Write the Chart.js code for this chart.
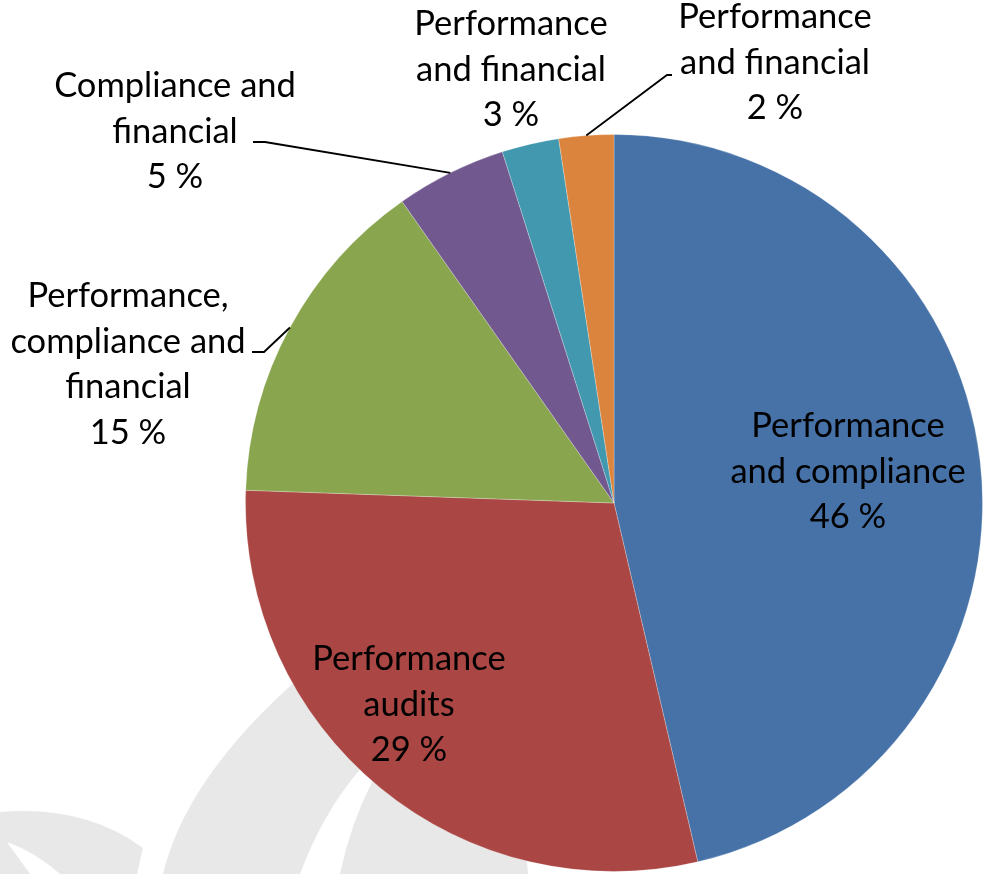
<!DOCTYPE html>
<html>
<head>
<meta charset="utf-8">
<script src="https://cdn.jsdelivr.net/npm/chart.js@4"></script>
<style>
    body { margin: 0; background: #ffffff; }
    canvas { display: block; }
</style>
</head>
<body>
<canvas id="chart" width="983" height="874"></canvas>
<script>
const categories = [
    ["Performance", "and compliance"],
    ["Performance", "audits"],
    ["Performance,", "compliance and", "financial"],
    ["Compliance and", "financial"],
    ["Performance", "and financial"],
    ["Performance", "and financial"]
];
const shares = [46.35, 29.2, 14.7, 4.85, 2.5, 2.4];
const colors = ["#4672A7", "#AA4643", "#89A54E", "#71588F", "#4198AF", "#DB843D"];

// where each label sits: centre x, first baseline, and where its leader line starts
const labelSpots = [
    { x: 848, y: 437, leader: null },
    { x: 409, y: 670, leader: null },
    { x: 128, y: 307, leader: { x: 252, y: 352 } },
    { x: 175, y: 97, leader: { x: 253, y: 142 } },
    { x: 511, y: 35, leader: null },
    { x: 775, y: 28, leader: { x: 672, y: 75 } }
];
const LINE_GAP = 45.5;
const FONT = "34.5px Lato, 'Open Sans', sans-serif";

const watermark = {
    id: "watermark",
    beforeDatasetsDraw(chart) {
        const ctx = chart.ctx;
        ctx.save();
        ctx.fillStyle = "#E8E8E8";
        // big band left of the white stripe
        ctx.beginPath();
        ctx.moveTo(345, 640);
        ctx.quadraticCurveTo(190, 760, 163, 874);
        ctx.lineTo(300, 874);
        ctx.quadraticCurveTo(322, 815, 357, 773);
        ctx.lineTo(420, 700);
        ctx.closePath();
        ctx.fill();
        // band right of the stripe, under the pie
        ctx.beginPath();
        ctx.moveTo(420, 720);
        ctx.lineTo(373, 780);
        ctx.quadraticCurveTo(350, 825, 340, 874);
        ctx.lineTo(528, 874);
        ctx.lineTo(526, 850);
        ctx.lineTo(500, 760);
        ctx.closePath();
        ctx.fill();
        // leaf at the bottom-left corner
        ctx.beginPath();
        ctx.moveTo(0, 812);
        ctx.quadraticCurveTo(85, 805, 143, 848);
        ctx.lineTo(137, 874);
        ctx.lineTo(60, 874);
        ctx.quadraticCurveTo(35, 852, 7, 842);
        ctx.quadraticCurveTo(20, 860, 30, 874);
        ctx.lineTo(0, 874);
        ctx.closePath();
        ctx.fill();
        ctx.restore();
    }
};

const sliceLabels = {
    id: "sliceLabels",
    afterDatasetsDraw(chart) {
        const ctx = chart.ctx;
        const arcs = chart.getDatasetMeta(0).data;
        const total = shares.reduce((a, b) => a + b, 0);
        ctx.save();
        ctx.font = FONT;
        ctx.fillStyle = "#000000";
        ctx.textAlign = "center";
        ctx.textBaseline = "alphabetic";
        arcs.forEach((arc, i) => {
            const spot = labelSpots[i];
            const lines = categories[i].concat([Math.round(shares[i] / total * 100) + " %"]);
            lines.forEach((line, k) => ctx.fillText(line, spot.x, spot.y + k * LINE_GAP));
            if (spot.leader) {
                const p = arc.getProps(["x", "y", "startAngle", "endAngle", "outerRadius"], true);
                const mid = (p.startAngle + p.endAngle) / 2;
                const ex = p.x + Math.cos(mid) * p.outerRadius;
                const ey = p.y + Math.sin(mid) * p.outerRadius;
                const stub = spot.leader.x < ex ? 12 : -5;
                ctx.beginPath();
                ctx.strokeStyle = "#000000";
                ctx.lineWidth = 1.8;
                ctx.moveTo(spot.leader.x, spot.leader.y);
                ctx.lineTo(spot.leader.x + stub, spot.leader.y);
                ctx.lineTo(ex, ey);
                ctx.stroke();
            }
        });
        ctx.restore();
    }
};

new Chart(document.getElementById("chart"), {
    type: "pie",
    data: {
        labels: categories.map(c => c.join(" ")),
        datasets: [{
            data: shares,
            backgroundColor: colors,
            borderColor: "rgba(255,255,255,0.25)",
            borderWidth: 1
        }]
    },
    options: {
        responsive: false,
        animation: false,
        layout: { padding: { left: 245, right: 0, top: 134, bottom: 2 } },
        plugins: {
            legend: { display: false },
            tooltip: { enabled: false }
        }
    },
    plugins: [watermark, sliceLabels]
});
</script>
</body>
</html>
